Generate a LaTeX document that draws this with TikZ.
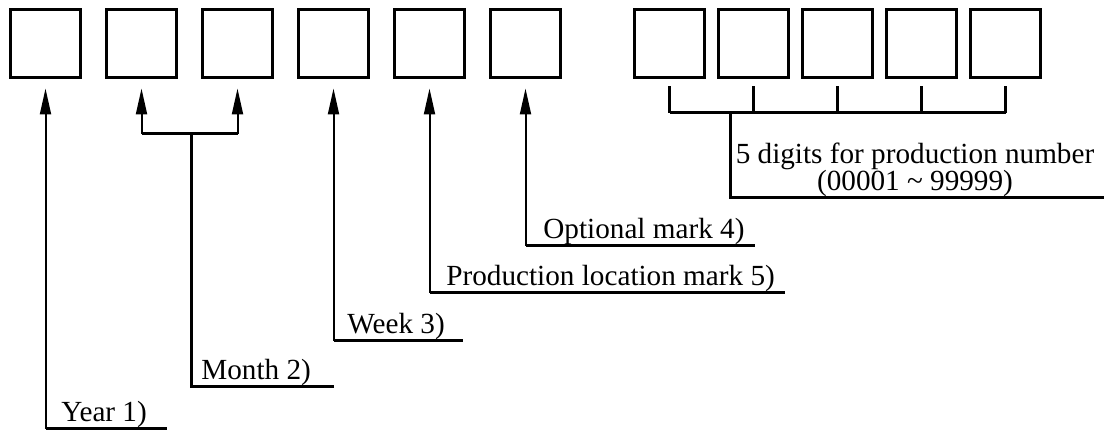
\documentclass[tikz,border=0pt]{standalone}
\usepackage{fontspec}
\setmainfont{Liberation Serif}
\usetikzlibrary{arrows.meta,calc}
\begin{document}
\begin{tikzpicture}[x=0.5pt,y=-0.5pt,
  cell/.style={draw, line width=1.5pt, minimum width=35pt, minimum height=34pt, inner sep=0pt},
  thinline/.style={line width=1pt},
  thickline/.style={line width=1.5pt},
  pointer/.style={thinline, -{Triangle[length=13pt,width=5.5pt]}, shorten >=4.75pt},
  lbl/.style={anchor=base west, inner sep=0pt, font=\fontsize{14.6}{13.5}\selectfont}]
\useasboundingbox (0,0) rectangle (1108,431);

% single-character cells
\foreach \i in {1,...,6}
  \node[cell] (a\i) at ({45.5+96*(\i-1)},43.5) {};
% five-digit production number cells
\foreach \j in {1,...,5}
  \node[cell] (r\j) at ({669.5+84*(\j-1)},43.5) {};

% Year
\coordinate (yk) at (a1.center |- 0,429);
\coordinate (ye) at (167,429);
\node[lbl] (ly) at (61,422) {Year 1)};
\draw[thickline] (yk) -- (ye);
\draw[pointer] (yk) -- (a1.south);

% Month (two cells)
\coordinate (mk) at (191,387);
\coordinate (me) at (334,387);
\coordinate (mb) at (191,134);
\coordinate (ml) at (a2.center |- mb);
\coordinate (mr) at (a3.center |- mb);
\node[lbl] (lm) at (201,380) {Month 2)};
\draw[thickline] (me) -- (mk) -- (mb);
\draw[thickline] (ml) -- (mr);
\draw[pointer] (ml) -- (a2.south);
\draw[pointer] (mr) -- (a3.south);

% Week
\coordinate (wk) at (a4.center |- 0,341);
\coordinate (we) at (463,341);
\node[lbl] (lw) at (347,334) {Week 3)};
\draw[thickline] (wk) -- (we);
\draw[pointer] (wk) -- (a4.south);

% Production location
\coordinate (pk) at (a5.center |- 0,293);
\coordinate (pe) at (785,293);
\node[lbl] (lp) at (446,286) {Production location mark 5)};
\draw[thickline] (pk) -- (pe);
\draw[pointer] (pk) -- (a5.south);

% Optional mark
\coordinate (ok) at (a6.center |- 0,246);
\coordinate (oe) at (755,246);
\node[lbl] (lo) at (543,239) {Optional mark 4)};
\draw[thickline] (ok) -- (oe);
\draw[pointer] (ok) -- (a6.south);

% Production number bracket
\coordinate (nb1) at (r1.center |- 0,113);
\coordinate (nb5) at (r5.center |- 0,113);
\foreach \j in {1,...,5}
  \draw[thickline] ($(r\j.south)+(0,7.5)$) -- (r\j.center |- nb1);
\draw[thickline] (nb1) -- (nb5);
\coordinate (ns) at (730,113);
\coordinate (nk) at (730,198);
\coordinate (ne) at (1104,198);
\draw[thickline] (ns) -- (nk) -- (ne);
% the base anchor of this two-line node sits on its last line
\node[lbl, align=center, anchor=base] (ln) at (915,191)
  {5 digits for production number\\(00001 \textasciitilde{} 99999)};
\end{tikzpicture}
\end{document}
